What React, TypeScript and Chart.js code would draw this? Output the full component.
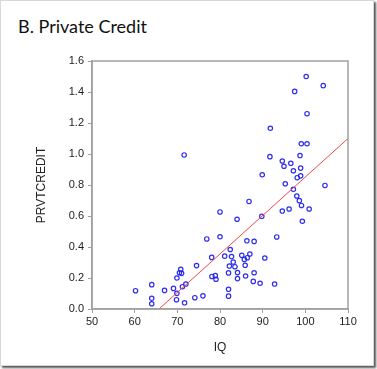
import React, { useEffect, useRef } from "react";
import { Chart, registerables } from "chart.js";

Chart.register(...registerables);

const TITLE = "B. Private Credit";
const X_LABEL = "IQ";
const Y_LABEL = "PRVTCREDIT";

const iqValues: number[] = [
  60.2, 64, 64, 64, 67, 69.1, 69.9, 70.5, 70.8, 71.0,
  69.9, 69.8, 71.2, 72.0, 71.7, 74.1, 74.5, 76.0, 76.9, 78.05,
  78.1, 78.9, 79.06, 80, 71.6, 82.4, 81.1, 82.7, 83.1, 82.2,
  83.5, 85.1, 85.7, 86.4, 87.0, 85.9, 90.5, 82.0, 84.1, 86.0,
  88.0, 84.1, 87.8, 89.4, 92.8, 82.0, 82.0, 86.3, 88.0, 93.3,
  86.8, 80.0, 84.0, 89.8, 94.6, 96.2, 99.1, 100.9, 99.3, 98.0,
  98.6, 100.2, 104.2, 97.5, 100.4, 91.8, 99.05, 100.4, 91.7, 94.6,
  95.0, 96.6, 98.75, 89.9, 97.2, 98.9, 98.1, 98.9, 95.3, 104.6,
  97.2,
];

const creditValues: number[] = [
  0.118, 0.157, 0.069, 0.034, 0.12, 0.133, 0.2, 0.234, 0.256, 0.23,
  0.101, 0.06, 0.144, 0.161, 0.04, 0.073, 0.28, 0.085, 0.452, 0.333,
  0.21, 0.215, 0.192, 0.466, 0.994, 0.384, 0.341, 0.338, 0.303, 0.277,
  0.273, 0.346, 0.32, 0.331, 0.355, 0.282, 0.329, 0.233, 0.235, 0.213,
  0.234, 0.196, 0.178, 0.166, 0.161, 0.127, 0.083, 0.44, 0.436, 0.465,
  0.694, 0.626, 0.579, 0.598, 0.632, 0.645, 0.668, 0.645, 0.566, 0.729,
  0.699, 1.5, 1.441, 1.404, 1.26, 1.166, 1.066, 1.066, 0.983, 0.955,
  0.921, 0.94, 0.99, 0.866, 0.892, 0.909, 0.847, 0.859, 0.808, 0.797,
  0.772,
];

// fitted line endpoints (IQ, PRVTCREDIT)
const fitX: number[] = [65.7, 110];
const fitY: number[] = [0, 1.1];

const framePlugin = {
  id: "frame",
  afterDraw(chart: any) {
    const { ctx, chartArea } = chart;
    ctx.save();
    ctx.strokeStyle = "#a0a0a0";
    ctx.lineWidth = 1.5;
    ctx.strokeRect(chartArea.left, chartArea.top, chartArea.right - chartArea.left, chartArea.bottom - chartArea.top);
    ctx.restore();
  },
};

export default function App() {
  const ref = useRef<HTMLCanvasElement | null>(null);

  useEffect(() => {
    if (!ref.current) return;
    const scatterData = iqValues.map((x, i) => ({ x, y: creditValues[i] }));
    const lineData = fitX.map((x, i) => ({ x, y: fitY[i] }));
    const chart = new Chart(ref.current, {
      type: "scatter",
      data: {
        datasets: [
          {
            type: "line",
            data: lineData,
            borderColor: "#f04848",
            borderWidth: 1,
            pointRadius: 0,
            fill: false,
          },
          {
            data: scatterData,
            pointStyle: "circle",
            pointRadius: 2.2,
            borderWidth: 1.2,
            borderColor: "rgba(35,35,235,0.95)",
            backgroundColor: "rgba(0,0,0,0)",
          },
        ],
      },
      plugins: [framePlugin],
      options: {
        animation: false,
        responsive: false,
        maintainAspectRatio: false,
        layout: { padding: { left: 30, top: 61, right: 29, bottom: 0 } },
        plugins: { legend: { display: false }, tooltip: { enabled: false } },
        scales: {
          x: {
            type: "linear",
            min: 50,
            max: 110,
            ticks: { stepSize: 10, color: "#222", font: { family: "Liberation Sans, Arial", size: 11 }, padding: 2 },
            grid: { drawOnChartArea: false, drawTicks: true, tickLength: 4, color: "#a0a0a0" },
            border: { display: true, color: "#a0a0a0", width: 1.5 },
            title: { display: true, text: X_LABEL, color: "#222", font: { family: "Liberation Sans, Arial", size: 12 }, padding: { top: 4, bottom: 14 } },
            afterFit: (s: any) => { s.height = 60; },
          },
          y: {
            type: "linear",
            min: 0,
            max: 1.6,
            ticks: { stepSize: 0.2, color: "#222", font: { family: "Liberation Sans, Arial", size: 11 }, padding: 4, callback: (v: any) => Number(v).toFixed(1) },
            grid: { drawOnChartArea: false, drawTicks: true, tickLength: 4, color: "#a0a0a0" },
            border: { display: true, color: "#a0a0a0", width: 1.5 },
            title: { display: true, text: Y_LABEL, color: "#222", font: { family: "Liberation Sans, Arial", size: 12 }, padding: { top: 4, bottom: 4 } },
            afterFit: (s: any) => { s.width = 62; },
          },
        },
      },
    });
    return () => chart.destroy();
  }, []);

  return (
    <div style={{ position: "fixed", left: 0, top: 0, width: 377, height: 369, background: "#fff" }}>
      <div
        style={{
          position: "absolute", left: 0, top: 0, width: 374, height: 366,
          border: "1px solid #d8d8d8", boxShadow: "2px 2px 2px #555", boxSizing: "border-box",
        }}
      />
      <div
        style={{
          position: "absolute", left: 18, top: 15, fontFamily: "Lato, 'Open Sans', sans-serif",
          fontSize: 18, lineHeight: "22px", color: "#111", whiteSpace: "nowrap",
        }}
      >
        {TITLE}
      </div>
      <canvas ref={ref} width={377} height={369} style={{ position: "absolute", left: 0, top: 0 }} />
    </div>
  );
}
